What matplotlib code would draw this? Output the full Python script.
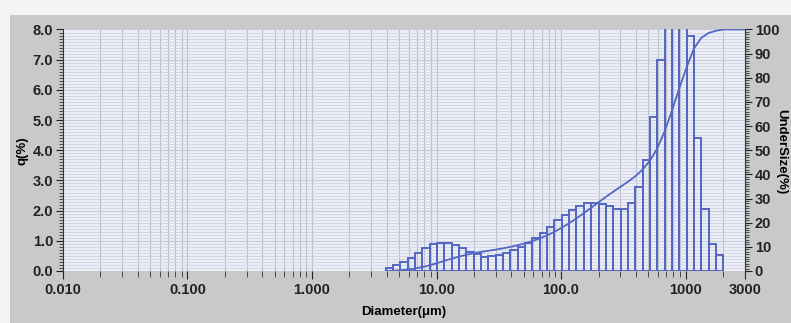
import numpy as np
import matplotlib.pyplot as plt
from matplotlib.patches import Rectangle
from matplotlib.ticker import FixedLocator, MultipleLocator, NullFormatter

# channel edges (um) and frequency q(%) per channel
edges = [3.905, 4.472, 5.122, 5.867, 6.720, 7.697, 8.816, 10.10, 11.57, 13.25,
         15.17, 17.38, 19.90, 22.80, 26.11, 29.91, 34.26, 39.23, 44.94, 51.47,
         58.95, 67.52, 77.34, 88.58, 101.5, 116.2, 133.1, 152.5, 174.6, 200.0,
         229.1, 262.4, 300.5, 344.2, 394.2, 451.6, 517.2, 592.4, 678.5, 777.1,
         890.1, 1019.5, 1167.7, 1337.5, 1531.9, 1754.6, 2009.7]
q = [0.11, 0.20, 0.31, 0.42, 0.59, 0.75, 0.88, 0.92, 0.92, 0.86,
     0.77, 0.62, 0.55, 0.47, 0.50, 0.53, 0.59, 0.70, 0.80, 0.92,
     1.10, 1.27, 1.47, 1.70, 1.85, 2.02, 2.15, 2.24, 2.26, 2.22,
     2.15, 2.07, 2.05, 2.26, 2.79, 3.67, 5.10, 7.00, 8.60, 9.30,
     8.70, 7.80, 4.40, 2.05, 0.90, 0.53]
xticks = [0.01, 0.1, 1, 10, 100, 1000, 3000]
xticklabels = ['0.010', '0.100', '1.000', '10.00', '100.0', '1000', '3000']

edges = np.array(edges)
q = np.array(q)
cum = np.concatenate([[0], np.cumsum(q)]) / q.sum() * 100

blue = '#5366c2'
plt.rcParams['font.family'] = ['Liberation Sans Narrow', 'Liberation Sans', 'DejaVu Sans']
plt.rcParams['font.weight'] = 'bold'
plt.rcParams['axes.labelweight'] = 'bold'

fig = plt.figure(figsize=(7.91, 3.23), dpi=100)
fig.patch.set_facecolor('#c9c9c9')
# pale scan border on top and left
fig.add_artist(Rectangle((0, 0.955), 1, 0.045, transform=fig.transFigure,
                         facecolor='#f4f4f4', edgecolor='none', zorder=-1))
fig.add_artist(Rectangle((0, 0), 0.013, 1, transform=fig.transFigure,
                         facecolor='#f4f4f4', edgecolor='none', zorder=-1))

ax = fig.add_axes([0.0796, 0.161, 0.8622, 0.7477])
ax.set_facecolor('#eceef6')
ax.set_xscale('log')
ax.set_xlim(0.01, 3000)
ax.set_ylim(0, 8)

# minor log positions for grid / ticks
minor = [m * 10.0 ** d for d in range(-2, 4) for m in range(2, 10) if m * 10.0 ** d < 3000]
ax.xaxis.set_major_locator(FixedLocator(xticks))
ax.xaxis.set_minor_locator(FixedLocator(minor))
ax.set_xticklabels(xticklabels)
ax.xaxis.set_minor_formatter(NullFormatter())
ax.yaxis.set_major_locator(MultipleLocator(1))
ax.yaxis.set_minor_locator(MultipleLocator(0.1))
ax.yaxis.set_major_formatter(plt.FormatStrFormatter('%.1f'))

ax.grid(which='minor', axis='y', color='#d3d6e8', linewidth=0.7)
ax.grid(which='major', axis='y', color='#c8cbe0', linewidth=0.8)
ax.grid(which='both', axis='x', color='#b8bac4', linewidth=0.8)
ax.set_axisbelow(True)

ax.bar(edges[:-1], q, width=np.diff(edges), align='edge', fill=False,
       edgecolor=blue, linewidth=1.4, zorder=3)

for s in ['top', 'bottom', 'right']:
    ax.spines[s].set_visible(False)
ax.spines['left'].set_color('#333333')
ax.tick_params(axis='y', which='major', length=5, labelsize=10.5, colors='#222222', pad=2)
ax.tick_params(axis='y', which='minor', length=3, color='#333333')
ax.tick_params(axis='x', which='major', length=6, labelsize=10.5, colors='#222222', pad=3)
ax.tick_params(axis='x', which='minor', length=4, color='#333333')
ax.set_ylabel('q(%)', fontsize=9.5, labelpad=3)
ax.set_xlabel('Diameter(\u03bcm)', fontsize=9.5, labelpad=6)

ax2 = ax.twinx()
ax2.set_ylim(0, 100)
ax2.plot(np.append(edges, 3000), np.append(cum, 100), color=blue, linewidth=1.3, zorder=4)
ax2.yaxis.set_major_locator(MultipleLocator(10))
ax2.yaxis.set_minor_locator(MultipleLocator(1))
for s in ['top', 'bottom', 'left']:
    ax2.spines[s].set_visible(False)
ax2.spines['right'].set_color('#333333')
ax2.tick_params(axis='y', which='major', length=5, labelsize=10.5, colors='#222222', pad=2)
ax2.tick_params(axis='y', which='minor', length=3, color='#333333')
fig.text(0.988, 0.53, 'UnderSize(%)', rotation=270, fontsize=9.5,
         fontweight='bold', ha='center', va='center')

fig.savefig('out.png', dpi=100)
